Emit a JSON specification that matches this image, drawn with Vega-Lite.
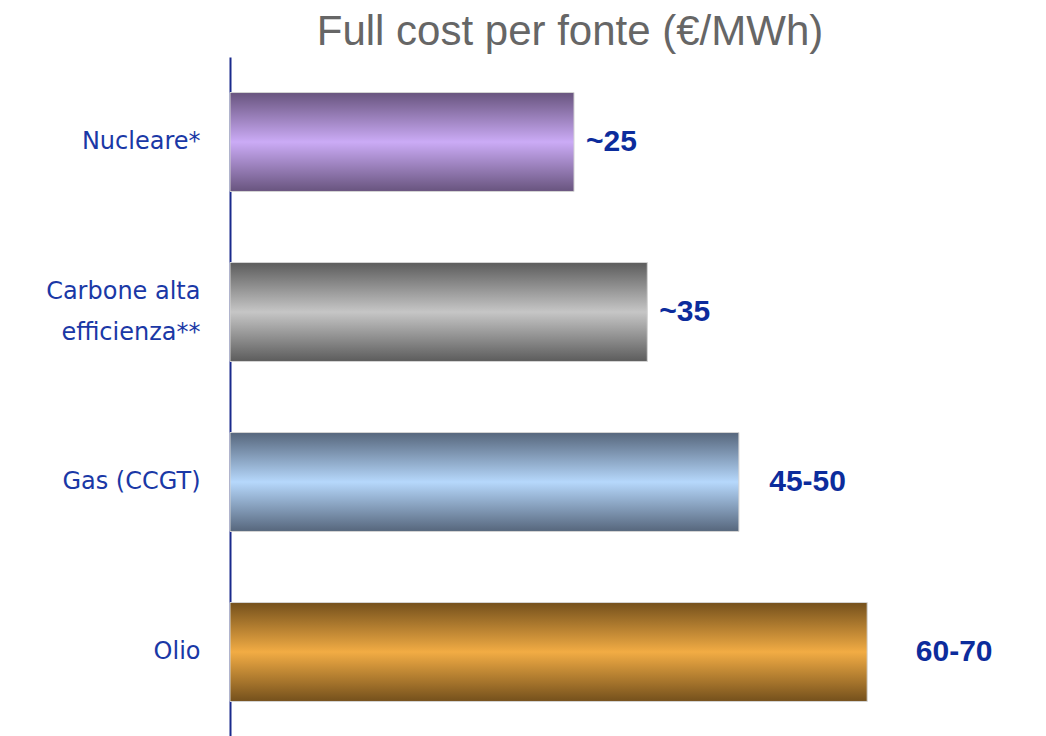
{
  "$schema": "https://vega.github.io/schema/vega-lite/v6.json",
  "width": 816,
  "height": 680,
  "autosize": {"type": "none"},
  "padding": {"left": 230, "top": 57, "right": 0, "bottom": 0},
  "background": "white",
  "view": {"stroke": null},
  "title": {
    "text": "Full cost per fonte (€/MWh)",
    "font": "Liberation Sans",
    "fontSize": 42,
    "fontWeight": "normal",
    "color": "#666666",
    "anchor": "middle",
    "dx": -68,
    "offset": 3
  },
  "data": {
    "values": [
      {"fonte": "Nucleare*", "costo": 25, "max": 25, "etichetta": "~25"},
      {"fonte": "Carbone alta efficienza**", "costo": 35, "max": 35, "etichetta": "~35"},
      {"fonte": "Gas (CCGT)", "costo": 47.5, "max": 50, "etichetta": "45-50"},
      {"fonte": "Olio", "costo": 65, "max": 70, "etichetta": "60-70"}
    ]
  },
  "encoding": {
    "y": {
      "field": "fonte",
      "type": "nominal",
      "sort": null,
      "scale": {"paddingInner": 0.418, "paddingOuter": 0.209},
      "axis": {
        "title": null,
        "ticks": false,
        "domainColor": "#1a2a8c",
        "domainWidth": 2,
        "labelFont": "DejaVu Sans",
        "labelFontSize": 24,
        "labelColor": "#1a38a6",
        "labelPadding": 30,
        "labelLineHeight": 41,
        "labelLimit": 240,
        "labelOffset": {
          "condition": {"test": "datum.value === 'Carbone alta efficienza**'", "value": -20},
          "value": 0
        },
        "labelExpr": "datum.label == 'Carbone alta efficienza**' ? ['Carbone alta', 'efficienza**'] : datum.label"
      }
    }
  },
  "layer": [
    {
      "mark": {"type": "bar", "stroke": "#d4d4d4", "strokeWidth": 1},
      "encoding": {
        "x": {
          "field": "costo",
          "type": "quantitative",
          "scale": {"domain": [-21.94, 89.4], "zero": false, "nice": false},
          "axis": null
        },
        "x2": {"datum": -21.94},
        "fill": {
          "condition": [
            {
              "test": "datum.fonte === 'Nucleare*'",
              "value": {
                "gradient": "linear", "x1": 0, "y1": 0, "x2": 0, "y2": 1,
                "stops": [
                  {"offset": 0, "color": "#68547e"},
                  {"offset": 0.5, "color": "#cbabf6"},
                  {"offset": 1, "color": "#68547e"}
                ]
              }
            },
            {
              "test": "datum.fonte === 'Carbone alta efficienza**'",
              "value": {
                "gradient": "linear", "x1": 0, "y1": 0, "x2": 0, "y2": 1,
                "stops": [
                  {"offset": 0, "color": "#5c5c5c"},
                  {"offset": 0.5, "color": "#c6c6c6"},
                  {"offset": 1, "color": "#5c5c5c"}
                ]
              }
            },
            {
              "test": "datum.fonte === 'Gas (CCGT)'",
              "value": {
                "gradient": "linear", "x1": 0, "y1": 0, "x2": 0, "y2": 1,
                "stops": [
                  {"offset": 0, "color": "#56667c"},
                  {"offset": 0.5, "color": "#b6d8fc"},
                  {"offset": 1, "color": "#56667c"}
                ]
              }
            }
          ],
          "value": {
            "gradient": "linear", "x1": 0, "y1": 0, "x2": 0, "y2": 1,
            "stops": [
              {"offset": 0, "color": "#74501c"},
              {"offset": 0.5, "color": "#f2ac44"},
              {"offset": 1, "color": "#74501c"}
            ]
          }
        }
      }
    },
    {
      "mark": {
        "type": "text",
        "align": "left",
        "baseline": "middle",
        "dx": 12,
        "font": "Liberation Sans",
        "fontSize": 30,
        "fontWeight": "bold",
        "color": "#0c2c9c"
      },
      "encoding": {
        "x": {"field": "max", "type": "quantitative"},
        "text": {"field": "etichetta"}
      }
    }
  ]
}
